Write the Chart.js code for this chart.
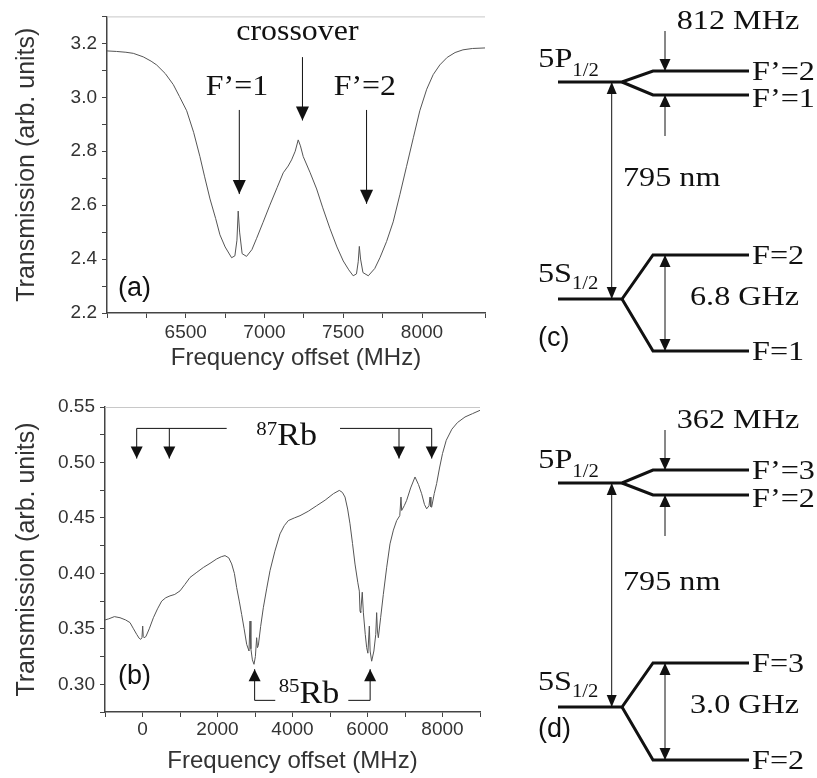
<!DOCTYPE html>
<html><head><meta charset="utf-8">
<script src="https://cdn.jsdelivr.net/npm/chart.js@4.4.1/dist/chart.umd.min.js"></script>
<style>
html,body{margin:0;padding:0;background:#fff;}
body{width:817px;height:778px;position:relative;overflow:hidden;}
canvas{position:absolute;}
</style></head><body>
<canvas id="ca" width="497" height="390" style="left:0;top:0"></canvas>
<canvas id="cb" width="497" height="388" style="left:0;top:390px"></canvas>
<canvas id="cc" width="320" height="389" style="left:497px;top:0"></canvas>
<canvas id="cd" width="320" height="389" style="left:497px;top:389px"></canvas>
<script>
// ---------- panel (a) data ----------
const freqA = [6000,6060,6120,6167,6230,6280,6315,6370,6421,6460,6506,6550,6590,6620,6654,6690,6717,6750,6791,6812,6825,6833,6842,6858,6886,6920,6950,6990,7034,7080,7119,7150,7172,7195,7214,7228,7246,7290,7331,7370,7415,7460,7500,7535,7563,7584,7595,7602,7610,7625,7659,7700,7733,7775,7817,7860,7902,7945,7986,8030,8071,8113,8160,8210,8260,8320,8400];
const transA = [3.172,3.170,3.167,3.163,3.150,3.134,3.120,3.088,3.047,3.003,2.950,2.870,2.780,2.705,2.623,2.550,2.490,2.445,2.405,2.412,2.470,2.578,2.500,2.420,2.410,2.435,2.477,2.535,2.600,2.665,2.720,2.745,2.768,2.800,2.842,2.820,2.780,2.720,2.660,2.590,2.514,2.445,2.393,2.360,2.338,2.345,2.390,2.447,2.400,2.350,2.338,2.365,2.405,2.465,2.538,2.640,2.744,2.850,2.950,3.030,3.084,3.120,3.148,3.166,3.176,3.181,3.183];
const xTickLabelsA = [6500,7000,7500,8000];
const yTickLabelsA = [2.2,2.4,2.6,2.8,3.0,3.2];

// ---------- panel (b) data ----------
const freqB = [-1000,-900,-750,-600,-450,-333,-240,-155,-90,-48,-15,5,20,40,90,180,290,400,512,620,733,860,1000,1130,1267,1450,1622,1800,1978,2100,2200,2300,2378,2450,2511,2580,2644,2710,2778,2840,2867,2890,2930,2973,3010,3044,3065,3089,3150,3222,3310,3400,3530,3667,3780,3889,4050,4200,4420,4644,4870,5089,5248,5330,5400,5470,5533,5600,5667,5740,5782,5800,5818,5860,5889,5940,5978,6010,6049,6070,6111,6170,6220,6244,6265,6289,6350,6422,6510,6600,6690,6778,6860,6893,6911,6980,7044,7150,7267,7360,7444,7520,7578,7640,7667,7690,7711,7780,7844,7920,8000,8100,8250,8400,8600,8800,9000];
const transB = [0.358,0.359,0.361,0.360,0.358,0.3556,0.350,0.345,0.3415,0.3405,0.342,0.3525,0.343,0.342,0.343,0.350,0.360,0.368,0.375,0.378,0.3797,0.381,0.3842,0.390,0.3963,0.401,0.4053,0.409,0.413,0.415,0.416,0.414,0.4085,0.400,0.3872,0.375,0.363,0.350,0.336,0.330,0.357,0.332,0.322,0.318,0.325,0.342,0.333,0.335,0.352,0.369,0.386,0.4024,0.420,0.4356,0.443,0.4476,0.450,0.452,0.456,0.461,0.466,0.4718,0.4748,0.473,0.4688,0.458,0.4447,0.427,0.4084,0.392,0.384,0.366,0.3646,0.383,0.365,0.345,0.333,0.328,0.3525,0.330,0.3208,0.330,0.345,0.3646,0.348,0.342,0.360,0.381,0.405,0.4266,0.439,0.4476,0.452,0.4688,0.4567,0.461,0.4658,0.477,0.4869,0.480,0.4718,0.462,0.4582,0.461,0.4688,0.460,0.4597,0.472,0.481,0.495,0.508,0.520,0.530,0.536,0.541,0.544,0.547];
const xTickLabelsB = [0,2000,4000,6000,8000];
const yTickLabelsB = [0.30,0.35,0.40,0.45,0.50,0.55];

// markers in panel (b)
const rb87Lines = [-155,715,6840,7712];
const rb85Lines = [2990,6070];

// ---------- diagrams (c), (d) : schematic level positions ----------
const diagX = [6.1, 12.5, 15.6, 25.2];          // level start, fork start, fork end, level end
const upperC = [30.7, 31.8, 29.4];              // 5P1/2, F'=2, F'=1
const lowerC = [9.0, 13.4, 3.8];                // 5S1/2, F=2, F=1
const upperD = [29.5, 30.8, 28.3];              // 5P1/2, F'=3, F'=2
const lowerD = [7.1, 11.5, 1.8];                // 5S1/2, F=3, F=2
const namesC = ["F’=2","F’=1","F=2","F=1"];
const namesD = ["F’=3","F’=2","F=3","F=2"];
const splitC = ["812 MHz","6.8 GHz"];
const splitD = ["362 MHz","3.0 GHz"];

// ---------- helpers ----------
const SERIF = '"Liberation Serif","Times New Roman",serif';
const SANS = '"Liberation Sans",Arial,sans-serif';
const INK = '#111';

function drawParts(ctx, x, y, parts, align, sx) {
  let w = 0;
  for (const p of parts) { ctx.font = p.font; p.w = ctx.measureText(p.t).width * sx; w += p.w; }
  let cx = align === 'center' ? x - w / 2 : (align === 'right' ? x - w : x);
  for (const p of parts) {
    ctx.save();
    ctx.font = p.font; ctx.fillStyle = INK;
    ctx.translate(cx, y + (p.dy || 0)); ctx.scale(sx, 1);
    ctx.textAlign = 'left'; ctx.textBaseline = p.baseline || 'alphabetic';
    ctx.fillText(p.t, 0, 0);
    ctx.restore();
    cx += p.w;
  }
}
function head(ctx, x, y, ang, hl, hw) {
  const c = Math.cos(ang), s = Math.sin(ang);
  ctx.beginPath();
  ctx.moveTo(x, y);
  ctx.lineTo(x - hl * c + hw / 2 * s, y - hl * s - hw / 2 * c);
  ctx.lineTo(x - hl * c - hw / 2 * s, y - hl * s + hw / 2 * c);
  ctx.closePath(); ctx.fill();
}
function makeAnnot(spec) {
  return {
    id: 'annot',
    afterDraw(chart) {
      const ctx = chart.ctx, xs = chart.scales.x, ys = chart.scales.y;
      const X = v => xs.getPixelForValue(v), Y = v => ys.getPixelForValue(v);
      ctx.save();
      ctx.strokeStyle = INK; ctx.fillStyle = INK;
      if (spec.frameTop) {
        const a = chart.chartArea;
        ctx.strokeStyle = '#c8c8c8'; ctx.lineWidth = 1;
        ctx.beginPath(); ctx.moveTo(a.left, a.top + 0.5); ctx.lineTo(a.right, a.top + 0.5); ctx.stroke();
        ctx.strokeStyle = INK;
      }
      for (const ln of (spec.lines || [])) {
        ctx.lineWidth = ln.lw || 1;
        ctx.beginPath();
        ln.pts.forEach((p, i) => { const px = X(p[0]), py = Y(p[1]); i ? ctx.lineTo(px, py) : ctx.moveTo(px, py); });
        ctx.stroke();
      }
      for (const a of (spec.arrows || [])) {
        const x1 = X(a.from[0]), y1 = Y(a.from[1]), x2 = X(a.to[0]), y2 = Y(a.to[1]);
        const ang = Math.atan2(y2 - y1, x2 - x1);
        ctx.lineWidth = a.lw || 1;
        ctx.beginPath(); ctx.moveTo(x1, y1); ctx.lineTo(x2, y2); ctx.stroke();
        head(ctx, x2, y2, ang, a.hl || 12, a.hw || 11);
        if (a.both) head(ctx, x1, y1, ang + Math.PI, a.hl || 12, a.hw || 11);
      }
      for (const t of (spec.texts || [])) {
        drawParts(ctx, X(t.x), Y(t.y), t.parts, t.align || 'left', t.sx || 1);
      }
      ctx.restore();
    }
  };
}
const near = (v, arr) => arr.some(a => Math.abs(a - v) < 1e-6);

function plotChart(id, freq, trans, cfg) {
  return new Chart(document.getElementById(id), {
    type: 'scatter',
    data: { datasets: [{ data: freq.map((f, i) => ({ x: f, y: trans[i] })), showLine: true, pointRadius: 0, borderColor: '#555', borderWidth: 1, tension: 0 }] },
    options: {
      responsive: false, animation: false, devicePixelRatio: 1,
      layout: { padding: cfg.padding },
      plugins: { legend: { display: false }, tooltip: { enabled: false } },
      scales: {
        x: {
          type: 'linear', min: cfg.xmin, max: cfg.xmax,
          border: { display: true, color: '#444', width: 1.5 },
          grid: { drawOnChartArea: false, drawTicks: true, tickLength: 5, tickColor: '#444', tickWidth: 1 },
          ticks: { stepSize: cfg.xstep, autoSkip: false, maxRotation: 0, padding: cfg.xpad, color: '#333',
                   font: { family: SANS, size: 19 },
                   callback: v => near(v, cfg.xlabels) ? String(v) : '' },
          title: { display: true, text: 'Frequency offset (MHz)', color: '#333', font: { family: SANS, size: 24 }, padding: { top: 0, bottom: cfg.xtpad } },
          afterFit: s => { s.height = cfg.xh; }
        },
        y: {
          type: 'linear', min: cfg.ymin, max: cfg.ymax,
          border: { display: true, color: '#444', width: 1.5 },
          grid: { drawOnChartArea: false, drawTicks: true, tickLength: 5, tickColor: '#444', tickWidth: 1 },
          ticks: { stepSize: cfg.ystep, autoSkip: false, padding: 5, color: '#333',
                   font: { family: SANS, size: 19 },
                   callback: v => near(v, cfg.ylabels) ? v.toFixed(cfg.ydec) : '' },
          title: { display: true, text: 'Transmission (arb. units)', color: '#333', font: { family: SANS, size: 25 }, padding: { top: 12, bottom: 0 } },
          afterFit: s => { s.width = cfg.yw; }
        }
      }
    },
    plugins: [makeAnnot(cfg.annot)]
  });
}

const serif = s => s + 'px ' + SERIF;
const sans = s => s + 'px ' + SANS;

// ---------- (a) ----------
plotChart('ca', freqA, transA, {
  padding: { top: 11, right: 12, left: 0, bottom: 0 },
  xmin: 6000, xmax: 8400, xstep: 250, xlabels: xTickLabelsA, xpad: 3, xh: 77, xtpad: 17,
  ymin: 2.2, ymax: 3.3, ystep: 0.1, ylabels: yTickLabelsA, ydec: 1, yw: 107,
  annot: {
    frameTop: true,
    arrows: [
      { from: [6840, 2.953], to: [6840, 2.641], hl: 14, hw: 13 },
      { from: [7241, 3.149], to: [7241, 2.914], hl: 14, hw: 13 },
      { from: [7648, 2.953], to: [7648, 2.605], hl: 14, hw: 13 }
    ],
    texts: [
      { x: 7209, y: 3.211, align: 'center', sx: 1.1, parts: [{ t: 'crossover', font: serif(29) }] },
      { x: 6825, y: 3.008, align: 'center', sx: 1.1, parts: [{ t: 'F’=1', font: serif(29) }] },
      { x: 7637, y: 3.008, align: 'center', sx: 1.1, parts: [{ t: 'F’=2', font: serif(29) }] },
      { x: 6070, y: 2.291, align: 'left', parts: [{ t: '(a)', font: sans(27), baseline: 'middle' }] }
    ]
  }
});

// ---------- (b) ----------
const top87 = 0.5307, tip87 = 0.5035, base85 = 0.2855, tip85 = 0.3136;
plotChart('cb', freqB, transB, {
  padding: { top: 17, right: 17, left: 0, bottom: 0 },
  xmin: -1000, xmax: 9000, xstep: 1000, xlabels: xTickLabelsB, xpad: 1, xh: 66, xtpad: 2,
  ymin: 0.275, ymax: 0.55, ystep: 0.025, ylabels: yTickLabelsB, ydec: 2, yw: 105,
  annot: {
    frameTop: true,
    lines: [
      { pts: [[rb87Lines[0], top87], [2245, top87]] },
      { pts: [[5267, top87], [rb87Lines[3], top87]] },
      { pts: [[rb85Lines[0], base85], [3540, base85]] },
      { pts: [[5488, base85], [rb85Lines[1], base85]] }
    ],
    arrows: rb87Lines.map(f => ({ from: [f, top87], to: [f, tip87], hl: 12, hw: 12 }))
      .concat(rb85Lines.map(f => ({ from: [f, base85], to: [f, tip85], hl: 12, hw: 12 }))),
    texts: [
      { x: 3845, y: 0.5156, align: 'center', sx: 1.1, parts: [{ t: '87', font: serif(19), dy: -10 }, { t: 'Rb', font: serif(31) }] },
      { x: 4440, y: 0.2828, align: 'center', sx: 1.1, parts: [{ t: '85', font: serif(19), dy: -11 }, { t: 'Rb', font: serif(31) }] },
      { x: -653, y: 0.3072, align: 'left', parts: [{ t: '(b)', font: sans(27), baseline: 'middle' }] }
    ]
  }
});

// ---------- (c), (d) level diagrams ----------
function diagram(id, upper, lower, names, split, panel, panelY) {
  const fork = (lv) => [
    { data: [{ x: diagX[0], y: lv[0] }, { x: diagX[1], y: lv[0] }, { x: diagX[2], y: lv[1] }, { x: diagX[3], y: lv[1] }] },
    { data: [{ x: diagX[1], y: lv[0] }, { x: diagX[2], y: lv[2] }, { x: diagX[3], y: lv[2] }] }
  ];
  const ds = fork(upper).concat(fork(lower)).map(d => Object.assign(d, { showLine: true, pointRadius: 0, borderColor: INK, borderWidth: 3, tension: 0, borderJoinStyle: 'miter' }));
  const arrX = 11.47, hfX = 16.8, lblX = 25.5, sx = 1.15, fs = 28;
  return new Chart(document.getElementById(id), {
    type: 'scatter',
    data: { datasets: ds },
    options: {
      responsive: false, animation: false, devicePixelRatio: 1,
      layout: { padding: 0 },
      plugins: { legend: { display: false }, tooltip: { enabled: false } },
      scales: { x: { type: 'linear', min: 0, max: 32, display: false }, y: { type: 'linear', min: 0, max: 38.9, display: false } }
    },
    plugins: [makeAnnot({
      arrows: [
        { from: [arrX, upper[0]], to: [arrX, lower[0]], both: true, hl: 12, hw: 10 },
        { from: [hfX, upper[1] + 4.0], to: [hfX, upper[1]], hl: 12, hw: 11 },
        { from: [hfX, upper[2] - 4.1], to: [hfX, upper[2]], hl: 12, hw: 11 },
        { from: [hfX, lower[1]], to: [hfX, lower[2]], both: true, hl: 12, hw: 11 }
      ],
      texts: [
        { x: 4.13, y: upper[0] + 1.5, sx, parts: [{ t: '5P', font: serif(fs) }, { t: '1/2', font: serif(18), dy: 9 }] },
        { x: 4.1, y: lower[0] + 1.7, sx, parts: [{ t: '5S', font: serif(fs) }, { t: '1/2', font: serif(18), dy: 7 }] },
        { x: lblX, y: upper[1] - 0.85, sx, parts: [{ t: names[0], font: serif(fs) }] },
        { x: lblX, y: upper[2] - 1.2, sx, parts: [{ t: names[1], font: serif(fs) }] },
        { x: lblX, y: lower[1] - 0.85, sx, parts: [{ t: names[2], font: serif(fs) }] },
        { x: lblX, y: lower[2] - 0.85, sx, parts: [{ t: names[3], font: serif(fs) }] },
        { x: 12.6, y: (upper[0] + lower[0]) / 2 + 0.5, sx, parts: [{ t: '795 nm', font: serif(fs) }] },
        { x: 17.97, y: upper[1] + 4.2, sx, parts: [{ t: split[0], font: serif(fs) }] },
        { x: 19.3, y: lower[0] - 0.55, sx, parts: [{ t: split[1], font: serif(fs) }] },
        { x: 4.1, y: panelY, parts: [{ t: panel, font: sans(27), baseline: 'middle' }] }
      ]
    })]
  });
}
diagram('cc', upperC, lowerC, namesC, splitC, '(c)', 5.0);
diagram('cd', upperD, lowerD, namesD, splitD, '(d)', 4.8);
</script>
</body></html>
